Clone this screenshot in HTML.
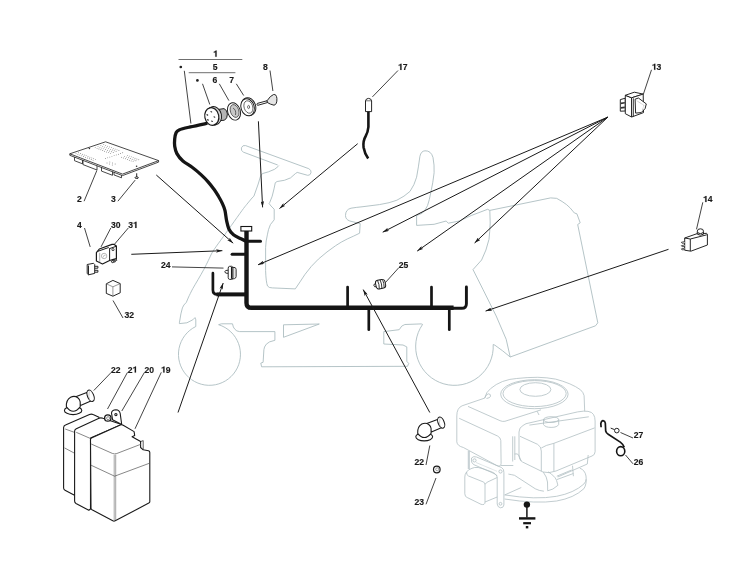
<!DOCTYPE html>
<html><head><meta charset="utf-8"><title>Wiring diagram</title>
<style>
html,body{margin:0;padding:0;background:#fff;}
svg{display:block;will-change:transform;}
text{font-family:"Liberation Sans",sans-serif;font-weight:bold;font-size:8.6px;fill:#1a1a1a;stroke:#1a1a1a;stroke-width:0.15px;text-anchor:middle;}
.o{fill:transparent;stroke:none;}
</style></head><body>
<svg width="731" height="573" viewBox="0 0 731 573">
<defs>
<marker id="ah" viewBox="0 0 10 10" refX="10" refY="5" markerWidth="6.5" markerHeight="3.6" markerUnits="userSpaceOnUse" orient="auto" preserveAspectRatio="none">
<path d="M0,0 L10,5 L0,10 L2.5,5 z" fill="#1a1a1a"/>
</marker>
<g id="boot" stroke="#1a1a1a" stroke-width="1.1" fill="#fff" stroke-linejoin="round">
<ellipse cx="0" cy="0" rx="8.7" ry="4.2"/>
<path d="M2.6,-13.6 L13.7,-17.8 L18.9,-9.8 L7.4,-4.9 Z"/>
<path d="M-6.7,-3.6 Q-7.2,-10.5 -2.5,-13.2 Q1.5,-15 4.7,-12.7 Q6.9,-11 7.1,-8.5 L7.1,-3.6 Q0,5.2 -6.7,-3.6 Z"/>
<ellipse cx="17.5" cy="-14.6" rx="3.1" ry="6" transform="rotate(-22 17.5 -14.6)"/>
<path d="M16.3,-19 Q14.8,-14 16.8,-9.6" fill="none" stroke="#aaa" stroke-width="0.6"/>
</g>
<path id="g1" d="M255,0 L410,0 L410,712 L300,712 Q262,610 75,585 L75,470 Q190,478 255,530 Z"/>
</defs>
<rect width="731" height="573" fill="#fff"/>

<!-- PALE TRACTOR -->
<g id="tractor" fill="none" stroke="#a8b9bd" stroke-width="0.85" stroke-linejoin="round">
<path d="M277.7,165 L243.5,152.2 Q240.6,150.8 241.4,147.8 Q242.6,144.8 245.6,145.6 L308.8,168.7 Q311.6,170.2 311,172.8 Q310,175.8 307.6,175.3 L297.2,172.4 L295.4,173.6 L290.5,177.9 L284.4,180.3 L277.1,181.5 L275.3,182.7 L274,188.9 L272.2,196.2 L269.8,202.3 L269.1,203.5 L271,206 L274.2,209.2 L274.2,219.8 L270.4,224.6 Q268,230 267.5,234.2 Q265.8,241 265.6,247.6 L265.6,270.6 Q266,282 267.5,286 Q269,288 272.3,287.9 L295.3,288.9 Q300,282 304.9,274.5 Q311,266 318.4,259.1 Q327,251.5 335.6,245.7 Q341,242 347.2,239 Q354,236 359.6,233.2 L360.2,223.6 L349.8,221 Q345.5,219.5 345.5,215.5 Q345.5,209.5 351,208.2 Q357,207.2 362,206.8 L379.4,204.6 Q390,203 396.9,200.2 Q404.5,196.5 410,191.4 Q414.5,185 416.6,177.2 Q418.5,167 419.9,156.4 Q421,151 425,150.8 Q431,150.5 433,157.5 Q434.5,165 434.1,172.8 Q433,183 430.8,192.5 Q429.5,200 427.5,205.7 Q425,211 422.1,213.3 L416.6,215.5 L416.6,225.4 L434.1,224.3 L446.1,221 L448.3,223.2 L459.3,221 L471.3,215.5 L487.6,209.3 L489.8,210.4 L550.6,197.9 Q557,197 562.1,201.5 Q567,204.5 570.3,208.1 L574.4,213 L576.9,213.8 L580.2,222.8 L577.7,224.5 L597.8,322.8 L595.5,325.8 L510.2,357"/>
<path d="M278.9,165.6 L278.3,166.3 L274.6,169.3 L268.5,171.8 L262.4,173.6 L260.6,176 L258.2,184 L253.9,196.2 L252,198 L246.5,204.7"/>
<path d="M246.5,204.7 C245.7,205.7 244.4,207.2 241.9,210.7 C239.4,214.1 234.9,220.5 231.4,225.4 C227.9,230.3 224.0,235.7 220.9,240.0 C217.8,244.3 214.9,248.1 212.8,251.5 C210.7,254.9 209.9,257.4 208.4,260.4 C206.9,263.4 205.6,266.1 203.9,269.3 C202.2,272.5 199.8,276.5 198.0,279.7 C196.2,282.9 194.4,285.7 192.8,288.6 C191.2,291.5 189.3,295.6 188.6,297.0 L186.3,302.4 L183.9,305 L182.4,307.9 L180.9,313.9 L179.4,322.8 L179.4,323.6 L186.9,322.8 L192.8,319.8 L195,317.6 L195.8,319.8 L195.8,326.5 A31,31 0 1 0 218.6,324.7 L221.5,323.8 L232.5,323.8 Q233,327.5 234.9,329.3 Q236.5,331.4 239.6,331.6 L274.9,331.6 L274.9,340.3 Q268.5,341.5 266.3,344.2 Q264,347 263.9,349.7 L263.1,362.3 L260.8,363.1 L261.6,366.8 L407.5,366.3 L408.7,363.5 L406.8,361.3 L406.8,346.9 L403,345 L383.8,344 L383.8,331.6 L399.2,329.7 Q401.5,325 404.9,324.5 L421.2,323.9 L422.6,324.4 A38.8,38.8 0 1 0 493.2,344.5 L494.9,345.2 L502.6,350.8 L510.2,357"/>
<path d="M489.8,210.4 L490.2,223 Q489.8,232 489,239.3 Q486.5,250.5 481.6,260 L473,269.6 L483,289.5 L496.2,316 L506.2,339.3 L510.2,357"/>
<path d="M283.5,324.8 L319.3,324 L283.5,337.3 Z"/>
</g>

<!-- ENGINE -->
<g id="engine" fill="none" stroke="#b1bfc3" stroke-width="0.8" stroke-linejoin="round">
<path d="M462.1,405.8 L484.7,398.1 Q486,392 490.6,388.6 Q496,384 502.5,381.5 Q510,378.8 516.7,378.5 Q527,377.3 537.8,377.3 Q547,377.5 555.6,379.1 Q563,381 569.9,383.9 Q576,386.5 580.5,389.8 Q583.5,392.5 584.1,395.7 L584.7,411.2"/>
<path d="M484.7,398.1 Q486,394 488.5,393.8 Q491,394 490.5,396.5 Q489.5,398 486.5,398.5"/>
<ellipse cx="534.4" cy="394.2" rx="33.7" ry="14.5"/>
<ellipse cx="534.6" cy="393.6" rx="31.6" ry="13"/>
<ellipse cx="535.4" cy="389.5" rx="15.5" ry="6.8"/>
<path d="M462.1,405.8 Q456.8,408 456.8,415.9 L456.8,441.9 Q457.3,446 463.4,447.5 L496.9,465.6 Q500.8,467.3 501.1,463.5 L500.8,440.5 Q500.5,437.5 497.7,436.1 L459.2,418.3"/>
<path d="M468,406.4 L500.1,420.7 Q502.5,421.8 504.9,421.3 L535,411.8 L541,409.8"/>
<path d="M526,423.7 L577.6,411.9 Q590.5,409.5 593.5,414.5 Q595.1,417 595.1,421 L595.1,451.7 Q595,455 592,456 L556,471 Q548.5,473.8 543,472 L522.5,462 Q519,460 519,456 L519,432 Q519,427.5 523,425.5 Z"/>
<path d="M520,436.3 L537.5,444.3 Q541.3,446.5 541.3,451 L541.3,471.2"/>
<path d="M541.3,448 Q545,445.3 553.9,443.3 L594.6,427.9"/>
<path d="M553.9,443.3 L553.9,471.2"/>
<path d="M529.4,425.1 L588.8,416.8"/>
<ellipse cx="551.1" cy="419.6" rx="7.6" ry="2.9"/>
<path d="M543.5,419.6 L543.5,424.5 Q545,427.4 551.1,427.4 Q557.3,427.4 558.7,424.5 L558.7,419.6"/>
<path d="M537.1,411.2 L539,415"/>
<path d="M512.7,436.3 L512.7,461.5 M514.8,436.3 L514.8,460"/>
<path d="M471.5,458 Q473.5,455.8 476.5,457 L501.5,467.5 Q504.2,469 503.9,472.5 L503.9,505 Q503.5,508 500.5,507.8 Q497.5,507.3 497.2,504 L497.2,477 Q497,475 494,473.5 L473.5,464.5 Q470.8,463 471.5,458 Z"/>
<circle cx="474.5" cy="460.4" r="1.6"/><circle cx="500.5" cy="471.5" r="1.6"/><circle cx="500.5" cy="503.8" r="1.4"/>
<path d="M476,462.5 L497,471.3" stroke-dasharray="0.6 0.6"/>
<path d="M466.6,472 Q468,469.5 472,468.3 L474.6,467.5 Q478,467 482,468.5 L491.7,471.8 Q495.5,473.5 497.2,476"/>
<path d="M466.6,472 Q464.8,474 464.8,477 L464.8,493.8 Q465,497 467.2,497.5 L481,504.3 Q485,505.5 485,502 L485,484.5 Q485,482.5 483,481.8 L468.5,476 Q466.2,475 466.6,472"/>
<path d="M485,484.5 Q486,482.6 488,481.8 L497.2,477.5 M485,502 L497.2,497"/>
<path d="M468.3,451 L468.3,469 M469.3,451 L469.3,469"/>
<path d="M504.6,499 Q536,504 556.6,501 Q574,498 583.9,488.7 Q587,484 586,476 Q585,470 579.8,468.2"/>
<path d="M504.6,494.9 Q536,500 556.6,496.3 Q574,493 583.9,484 Q586.5,481 586,479.2"/>
<path d="M508.4,474.1 Q511,474.5 514.5,475.3 L535.3,488.8 Q539,490.8 543.9,491.2 M504.8,494.9 L521.3,487.5 M501,465.5 L513.3,465.5 M514.5,454 L517,453.9 Q519,454.5 519.5,457 L521.3,461.3"/>
<path d="M543.3,472.2 Q547,477 547.5,482 L547.7,490.8 Q553,490 557.9,485.3 Q556.5,479 555.2,477.8 Q551,473 548,471.8 M557.7,477 L587.3,464 L588.2,455 M556.8,476.2 L571.6,470 M556.8,479.6 L573.4,473.5 M572.5,465.7 L573.4,476.2"/>

</g>

<!-- HARNESS -->
<g id="harness" fill="none" stroke="#151515" stroke-linejoin="round">
<path d="M207.4,123.2 C204.6,123.8 195.0,125.8 190.3,126.9 C185.6,128.0 181.5,128.9 179.1,129.9 C176.7,130.9 176.7,131.5 176.0,133.0 C175.3,134.5 174.9,136.6 174.7,138.8 C174.5,141.0 174.3,143.7 174.7,146.2 C175.1,148.7 175.5,151.1 176.9,153.6 C178.3,156.1 180.4,158.8 182.9,161.0 C185.4,163.2 188.8,164.8 191.8,167.0 C194.8,169.2 198.0,171.9 200.7,174.4 C203.4,176.9 205.9,179.3 208.1,181.8 C210.3,184.3 212.2,186.9 214.0,189.3 C215.8,191.8 217.2,194.2 218.6,196.5 C220.0,198.8 221.2,201.0 222.3,203.4 C223.4,205.8 224.3,207.7 225.0,210.7 C225.7,213.7 226.0,218.1 226.7,221.2 C227.4,224.3 227.9,227.0 229.0,229.3 C230.1,231.6 231.5,233.2 233.5,234.8 C235.5,236.4 238.8,237.7 241.0,238.8 C243.2,239.9 245.7,241.1 246.6,241.5" stroke-width="3.3"/>
<path d="M246.5,230.8 V302.9 Q246.5,307.8 251.4,307.8 H453.6" stroke-width="4.4"/>
<path d="M452,308.3 H461.8 Q466.4,308.3 466.4,303.7 V287" stroke-width="2.9" stroke-linecap="round"/>
<path d="M246.5,241.3 H260.5" stroke-width="3" stroke-linecap="round"/>
<path d="M232.1,254.3 H246.5" stroke-width="3" stroke-linecap="round"/>
<path d="M212.9,273.2 V290 Q212.9,294.4 217.3,294.4" stroke-width="2.7" stroke-linecap="round"/>
<path d="M216.5,294.4 H246.5" stroke-width="4"/>
<path d="M347.6,287 V307" stroke-width="2.7" stroke-linecap="round"/>
<path d="M431.5,287 V307" stroke-width="2.7" stroke-linecap="round"/>
<path d="M368.8,307.5 V329.7" stroke-width="2.7" stroke-linecap="round"/>
<path d="M449.3,307.5 V329.7" stroke-width="2.7" stroke-linecap="round"/>
</g>
<rect x="240.9" y="226.5" width="10.8" height="4.5" fill="#fff" stroke="#151515" stroke-width="1.1"/>

<!-- ARROWS -->
<g fill="none" stroke="#1a1a1a" stroke-width="1" marker-end="url(#ah)">
<path d="M258.4,121.3 L262.6,207.4"/>
<path d="M357.7,143.7 L279.5,208.5"/>
<path d="M156.3,175 L233.2,243.2"/>
<path d="M131.3,254.3 L222.4,250.7"/>
<path d="M607.9,117.1 L258,264.8"/>
<path d="M607.9,117.1 L382.7,232.2"/>
<path d="M607.9,117.1 L417.2,251.1"/>
<path d="M607.9,117.1 L474.6,243"/>
<path d="M668.5,249.3 L485.6,311.1"/>
<path d="M178,412.5 L223.2,283"/>
<path d="M429.8,412.5 L363.2,289.6"/>
</g>

<!-- LEADERS -->
<g fill="none" stroke="#222" stroke-width="0.85">
<path d="M178.5,59.5 H242.3" stroke="#555"/>
<path d="M188.7,72.7 H235.4" stroke="#555"/>
<path d="M184.3,70.8 L190.9,123.5"/>
<path d="M202.5,83.8 L209.8,104.5"/>
<path d="M219.3,83.8 L228.9,100.6"/>
<path d="M236.3,83.8 L243.7,95.5"/>
<path d="M270,70.5 L272.9,91"/>
<path d="M398,70.5 L372.4,96.9"/>
<path d="M651.5,69.8 L643.3,94.4"/>
<path d="M84.1,201.2 L96.9,170.4"/>
<path d="M117.9,201.2 L135.2,180.1"/>
<path d="M84.5,228 L90.2,246.9"/>
<path d="M110.8,228 L101,246.9"/>
<path d="M128.3,228 L114.6,244.1"/>
<path d="M172,266.9 L223.5,268.1"/>
<path d="M398.9,267.6 L385.1,282.9"/>
<path d="M702.8,202.3 L696.5,229.3"/>
<path d="M113,300.5 L123,318"/>
<path d="M111.3,372.3 L93.8,390.5"/>
<path d="M127.5,372.3 L107.5,409"/>
<path d="M144.5,372.3 L121.8,411"/>
<path d="M161.3,372.3 L135,428.8"/>
<path d="M426,465 L429.8,445.5"/>
<path d="M426,504.3 L436,478"/>
<path d="M633,438 L620.5,432.5"/>
<path d="M633,463.8 L625.5,455"/>
</g>
<circle cx="180.8" cy="67" r="1.35" fill="#222"/>
<circle cx="197.4" cy="80.4" r="1.35" fill="#222"/>

<!-- LABELS -->
<g>
<text x="215.5" y="56.7"><tspan class="o">1</tspan></text>
<text x="215.2" y="70.3">5</text>
<text x="214.8" y="83.1">6</text>
<text x="231.6" y="83.1">7</text>
<text x="265.5" y="69.7">8</text>
<text x="402.8" y="69.9"><tspan class="o">1</tspan>7</text>
<text x="656.6" y="69.8"><tspan class="o">1</tspan>3</text>
<text x="79.5" y="201.6">2</text>
<text x="113.3" y="201.6">3</text>
<text x="79.5" y="227.9">4</text>
<text x="115.8" y="227.9">30</text>
<text x="133" y="227.9">3<tspan class="o">1</tspan></text>
<text x="165.8" y="267.6">24</text>
<text x="403.5" y="267.6">25</text>
<text x="707.8" y="202.1"><tspan class="o">1</tspan>4</text>
<text x="129.3" y="318.4">32</text>
<text x="115.8" y="372.6">22</text>
<text x="132.5" y="372.6">2<tspan class="o">1</tspan></text>
<text x="149.3" y="372.6">20</text>
<text x="165.8" y="372.6"><tspan class="o">1</tspan>9</text>
<text x="419.3" y="464.9">22</text>
<text x="419.3" y="504.9">23</text>
<text x="638.5" y="438.4">27</text>
<text x="638.5" y="464.6">26</text>

<g fill="#1a1a1a" stroke="#1a1a1a" stroke-width="18"><use href="#g1" transform="translate(213.11,56.70) scale(0.0086,-0.0086)"/><use href="#g1" transform="translate(398.02,69.90) scale(0.0086,-0.0086)"/><use href="#g1" transform="translate(651.82,69.80) scale(0.0086,-0.0086)"/><use href="#g1" transform="translate(133.00,227.90) scale(0.0086,-0.0086)"/><use href="#g1" transform="translate(703.02,202.10) scale(0.0086,-0.0086)"/><use href="#g1" transform="translate(132.50,372.60) scale(0.0086,-0.0086)"/><use href="#g1" transform="translate(161.02,372.60) scale(0.0086,-0.0086)"/></g>
</g>


<!-- battery -->
<g stroke="#1a1a1a" stroke-width="1.1" fill="#fff" stroke-linejoin="round">
<path d="M63.6,427.5 Q63.8,425.8 65.5,425.1 L89.5,414.5 Q91.5,413.8 93.1,414.6 L99,417.3 L99,480 L74,495 L65,490.2 Q63.6,489.5 63.6,488 Z"/>
<path d="M65.2,429 L74.3,432.3 M64.5,447.9 L74.3,453.1" fill="none" stroke="#555" stroke-width="0.7"/>
<path d="M74.6,431 Q74.8,429.5 76.3,428.8 L99,418.2 Q101,417.4 103,418.3 L121.7,424.5 L90.5,438.1 L90.5,509 L88.8,510.3 L76,503.4 Q74.6,502.6 74.6,501 Z"/>
<path d="M76.2,432.3 L90.5,438.5" fill="none" stroke="#555" stroke-width="0.7"/>
<path d="M90.5,439.5 Q90.6,438.4 92,437.8 L120.3,425 Q121.7,424.3 123.2,425.2 L134.1,431.6 L134.7,435.5 L132.1,436.8 L140.6,441.6 L140.6,447.5 L143.2,449.8 L148.5,450.7 Q149.8,451.1 149.8,452.5 L149.8,501.8 Q149.8,502.6 148.8,503.1 L115.2,520.8 Q114,521.4 112.8,520.8 L92,509.8 Q91,509.2 91,508 Z"/>
<path d="M91.2,444 L112.3,453.4 Q114.5,454.4 116.8,453.5 L141,444.2" fill="none" stroke="#555" stroke-width="0.7"/>
<path d="M114.2,455 L114.2,520.6 M115.7,454.6 L115.7,520" fill="none" stroke="#666" stroke-width="0.6"/>
<path d="M91,465.2 L114.6,476.2 L149.8,463.1" fill="none" stroke="#555" stroke-width="0.7"/>
<path d="M140.6,441.6 L143.2,440.6 L143.2,449.8" fill="none" stroke-width="0.7"/>
<path d="M112.6,419.8 L111.5,413 Q112,409.8 115.9,409.8 Q119.6,410 120.2,413.5 L121.7,424.5 Z"/>
<circle cx="115.9" cy="414.6" r="1.1"/>
<circle cx="107.8" cy="418" r="3.2" stroke-width="1.3"/>
<circle cx="108.1" cy="418.2" r="1.5" fill="none" stroke="#666" stroke-width="0.7"/>
</g>

<!-- PARTS -->
<g id="parts" stroke="#1a1a1a" stroke-width="0.95" fill="#fff" stroke-linejoin="round">
<!-- board 2 -->
<g stroke-width="0.8">
<path d="M74.5,157.1 L74.5,160.7 L82.5,163.8 L82.5,160.2"/><path d="M83.0,160.4 L83.0,164.6 L97.0,170.0 L97.0,165.8"/><path d="M101.5,167.5 L101.5,171.1 L112.5,175.3 L112.5,171.7"/><path d="M114.0,172.3 L114.0,174.9 L121.5,177.8 L121.5,175.2"/>
<path d="M69.8,153.8 L105.6,141.8 L158.6,160.6 L122.5,174.1 Z" fill="#fff"/>
<path d="M69.8,153.8 L69.8,155.3 L122.5,175.6 L158.6,162.1 L158.6,160.6" fill="none"/>
</g>
<g fill="#444" stroke="none"><circle cx="95.16" cy="147.58" r="0.42"/><circle cx="97.06" cy="148.31" r="0.42"/><circle cx="98.95" cy="149.04" r="0.42"/><circle cx="100.85" cy="149.77" r="0.42"/><circle cx="102.75" cy="150.50" r="0.42"/><circle cx="104.64" cy="151.23" r="0.42"/><circle cx="106.54" cy="151.96" r="0.42"/><circle cx="108.44" cy="152.69" r="0.42"/><circle cx="110.34" cy="153.42" r="0.42"/><circle cx="98.02" cy="146.62" r="0.42"/><circle cx="99.92" cy="147.35" r="0.42"/><circle cx="101.82" cy="148.08" r="0.42"/><circle cx="103.71" cy="148.81" r="0.42"/><circle cx="105.61" cy="149.54" r="0.42"/><circle cx="107.51" cy="150.27" r="0.42"/><circle cx="109.41" cy="151.00" r="0.42"/><circle cx="111.30" cy="151.73" r="0.42"/><circle cx="113.20" cy="152.46" r="0.42"/><circle cx="100.89" cy="145.66" r="0.42"/><circle cx="102.78" cy="146.39" r="0.42"/><circle cx="104.68" cy="147.12" r="0.42"/><circle cx="106.58" cy="147.85" r="0.42"/><circle cx="108.47" cy="148.58" r="0.42"/><circle cx="110.37" cy="149.31" r="0.42"/><circle cx="112.27" cy="150.04" r="0.42"/><circle cx="114.17" cy="150.77" r="0.42"/><circle cx="116.06" cy="151.50" r="0.42"/><circle cx="103.75" cy="144.70" r="0.42"/><circle cx="105.65" cy="145.43" r="0.42"/><circle cx="107.54" cy="146.16" r="0.42"/><circle cx="109.44" cy="146.89" r="0.42"/><circle cx="111.34" cy="147.62" r="0.42"/><circle cx="113.24" cy="148.35" r="0.42"/><circle cx="115.13" cy="149.08" r="0.42"/><circle cx="117.03" cy="149.81" r="0.42"/><circle cx="118.93" cy="150.54" r="0.42"/><circle cx="76.02" cy="153.62" r="0.42"/><circle cx="77.91" cy="154.35" r="0.42"/><circle cx="79.81" cy="155.08" r="0.42"/><circle cx="81.71" cy="155.81" r="0.42"/><circle cx="83.60" cy="156.54" r="0.42"/><circle cx="85.50" cy="157.27" r="0.42"/><circle cx="87.40" cy="158.00" r="0.42"/><circle cx="89.30" cy="158.73" r="0.42"/><circle cx="91.19" cy="159.46" r="0.42"/><circle cx="93.09" cy="160.19" r="0.42"/><circle cx="78.52" cy="152.78" r="0.42"/><circle cx="80.42" cy="153.51" r="0.42"/><circle cx="82.32" cy="154.24" r="0.42"/><circle cx="84.21" cy="154.97" r="0.42"/><circle cx="86.11" cy="155.70" r="0.42"/><circle cx="88.01" cy="156.43" r="0.42"/><circle cx="89.90" cy="157.16" r="0.42"/><circle cx="91.80" cy="157.89" r="0.42"/><circle cx="93.70" cy="158.62" r="0.42"/><circle cx="95.60" cy="159.35" r="0.42"/><circle cx="105.52" cy="158.53" r="0.42"/><circle cx="107.67" cy="157.81" r="0.42"/><circle cx="109.81" cy="157.09" r="0.42"/><circle cx="111.96" cy="156.37" r="0.42"/><circle cx="114.11" cy="155.65" r="0.42"/><circle cx="116.26" cy="154.93" r="0.42"/><circle cx="118.41" cy="154.21" r="0.42"/><circle cx="120.55" cy="153.49" r="0.42"/><circle cx="122.70" cy="152.77" r="0.42"/><circle cx="121.70" cy="157.28" r="0.42"/><circle cx="123.59" cy="158.02" r="0.42"/><circle cx="125.49" cy="158.75" r="0.42"/><circle cx="127.39" cy="159.48" r="0.42"/><circle cx="129.29" cy="160.21" r="0.42"/><circle cx="131.18" cy="160.94" r="0.42"/><circle cx="133.08" cy="161.67" r="0.42"/><circle cx="124.56" cy="156.32" r="0.42"/><circle cx="126.46" cy="157.06" r="0.42"/><circle cx="128.36" cy="157.79" r="0.42"/><circle cx="130.25" cy="158.52" r="0.42"/><circle cx="132.15" cy="159.25" r="0.42"/><circle cx="134.05" cy="159.98" r="0.42"/><circle cx="135.94" cy="160.71" r="0.42"/><circle cx="127.42" cy="155.37" r="0.42"/><circle cx="129.32" cy="156.10" r="0.42"/><circle cx="131.22" cy="156.83" r="0.42"/><circle cx="133.12" cy="157.56" r="0.42"/><circle cx="135.01" cy="158.29" r="0.42"/><circle cx="136.91" cy="159.02" r="0.42"/><circle cx="138.81" cy="159.75" r="0.42"/><circle cx="107.00" cy="162.97" r="0.42"/><circle cx="109.63" cy="163.99" r="0.42"/><circle cx="112.27" cy="165.00" r="0.42"/><circle cx="109.86" cy="162.01" r="0.42"/><circle cx="112.50" cy="163.03" r="0.42"/><circle cx="115.13" cy="164.04" r="0.42"/></g>
<circle cx="89.4" cy="148.5" r="0.8" fill="#333" stroke="none"/>
<circle cx="136.6" cy="166.2" r="0.8" fill="#333" stroke="none"/>
<!-- screw 3 -->
<path d="M136.7,173.3 L136.7,177.2" fill="none"/>
<ellipse cx="136.7" cy="177.7" rx="1.7" ry="0.8"/>
<!-- relay 30 -->
<path d="M112.5,259.6 L116,258.6 L116.8,260.4 L113.3,261.5 Z M111.2,261 L114.6,260 L115.4,261.8 L112,262.8 Z" stroke-width="0.8"/>
<path d="M96.4,252.7 L99.3,249 L112,244.4 L113.8,244.3 L116.4,246.1 L116.4,258.6 L113.5,259.3 L109.6,260.5 L102.5,264 L96.4,261 Z" stroke-width="1.2"/>
<path d="M109.6,248.6 L109.6,260.5 M97.6,251.4 L108.4,247.6 L109.6,248.6 L116.2,246.3" fill="none" stroke-width="1"/>
<path d="M99.7,252.8 L99.7,262.4" fill="none" stroke="#777" stroke-width="0.6"/>
<circle cx="104.1" cy="256" r="2.7" fill="none" stroke="#888" stroke-width="0.6"/>
<path d="M103,257.5 Q104.5,253.5 105.2,256" fill="none" stroke="#999" stroke-width="0.6"/>
<circle cx="113" cy="249.6" r="1.1" stroke-width="0.8"/>
<!-- part 4 -->
<path d="M87.2,264.5 L93.5,263.3 L94.7,264.5 L94.7,273.4 L88.5,274.8 L87.2,273.6 Z"/>
<path d="M88.5,265.5 L88.5,274.7" fill="none"/>
<path d="M94.7,266.3 L97.9,266.3 L97.9,268.2 L94.7,268.2 M94.7,270.3 L97.9,270.3 L97.9,272.2 L94.7,272.2" fill="none"/>
<!-- part 32 cube -->
<path d="M112.9,280.4 L120.2,283.6 L120.2,292.8 L112.9,296.2 L106.3,293.4 L106.3,283.8 Z"/>
<path d="M106.3,283.8 L112.9,286.8 L120.2,283.6 M112.9,286.8 L112.9,296.2" fill="none" stroke-width="0.6" stroke="#555"/>
<!-- clip 24 -->
<path d="M228.4,270.2 Q224.8,270 224.8,271.8 Q224.8,273.6 228.4,273.4" fill="none" stroke-width="0.9"/>
<path d="M232,267.2 L235,267.6 Q236.1,268 236.1,269.5 L236.1,276.5 Q236,278.2 234.5,278.6 L232,279 Z" fill="#fff"/>
<path d="M229.6,266.3 L231.6,266.3 Q232.9,266.6 232.9,268.2 L232.9,277.8 Q232.8,279.4 231.4,279.4 L229.6,279.4 Q228.2,279.2 228.2,277.6 L228.2,268.2 Q228.3,266.4 229.6,266.3 Z" fill="#fff"/>
<path d="M231.6,267 L231.6,278.8" fill="none" stroke-width="1.3"/>
<path d="M233.8,268 L233.8,278.4" fill="none" stroke="#888" stroke-width="0.7"/>
<!-- clip 25 -->
<g transform="translate(380,284.3) rotate(-12)">
<path d="M-4,-1.6 Q-6.2,-1.8 -6.2,0 Q-6.2,1.8 -4,1.6" fill="none" stroke-width="0.9"/>
<rect x="-4.2" y="-4.4" width="9.6" height="8.8" rx="2.6"/>
<path d="M-1.6,-4.3 Q-0.6,0 -1.6,4.3 M1,-4.4 Q2,0 1,4.4 M3.4,-4.1 Q4.3,0 3.4,4.1" fill="none" stroke-width="0.8"/>
</g>
<!-- switch 13 -->
<path d="M620.3,99.6 L625.3,98.2 L625.3,111 L620.3,111.2 Z"/>
<path d="M620.8,102.6 L624.8,101.9 L624.8,103.6 L620.8,104.2 Z M620.8,107.1 L624.8,106.6 L624.8,108.2 L620.8,108.7 Z" fill="#333" stroke="none"/>
<path d="M625.3,95.3 L631.6,97.8 L631.6,117 L625.3,113.7 Z"/>
<path d="M625.3,95.3 L634.3,92.2 L643.2,94.1 L631.6,97.8 Z"/>
<path d="M631.6,97.8 L643.2,94.1 L643.5,112.6 L631.7,117 Z"/>
<path d="M633.4,98.3 L633.4,116.4" fill="none" stroke-width="0.8"/>
<path d="M635.1,99.2 L638.4,98 L646.3,103.9 L645.1,108.6 L641.2,112.6 L635.6,113.1 Z"/>
<path d="M636.8,100.8 L644,105.3 L642.3,110.3" fill="none" stroke="#888" stroke-width="0.6" stroke-dasharray="0.8 0.6"/>
<!-- microswitch 14 -->
<path d="M684.7,238 L697.5,233.5 L706.6,233.4 Q707.4,233.6 707.4,235 L707.4,245 L690.9,251.2 L684.7,250.2 Z"/>
<path d="M684.7,238 L690.3,239 L706.8,234.8 M690.3,239 L690.3,251" fill="none"/>
<path d="M685,241.5 L681.3,242.3 L682.2,243.3 L685,243.0" stroke-width="0.75"/><path d="M685,244.9 L681.3,245.7 L682.2,246.7 L685,246.4" stroke-width="0.75"/><path d="M685,248.1 L681.3,248.9 L682.2,249.9 L685,249.6" stroke-width="0.75"/>
<path d="M697.3,231.8 L697.3,234.2 Q700.4,236.2 703.5,234.2 L703.5,231.8" />
<ellipse cx="700.4" cy="231.2" rx="3.1" ry="2.4"/>
<!-- part 17 connector -->
<path d="M368.4,111.5 L368.4,127 Q368,132 365.5,136.5 Q362.8,141 363.6,147.5 Q364.6,153.5 368.2,158.4" fill="none" stroke="#151515" stroke-width="2.6"/>
<path d="M365.5,100.8 L366.5,99 Q368.5,97.8 370.6,99 L371.6,100.8 L371.6,111.6 L365.5,111.6 Z"/>
<path d="M365.5,100.8 L371.6,100.8" fill="none" stroke-width="0.6"/>
<!-- part 5 switch body -->
<path d="M218.5,109.4 L224,108.6 Q227.2,110 227.4,114 Q227.4,118.6 224.5,120.2 L218.5,120.8 Z" fill="#b5b5b5"/>
<ellipse cx="214" cy="115.8" rx="7.5" ry="9.3" transform="rotate(-12 214 115.8)" fill="#d4d4d4"/>
<ellipse cx="211.8" cy="116.5" rx="7" ry="8.9" transform="rotate(-12 211.8 116.5)" stroke-width="1.2"/>
<g fill="#333" stroke="none">
<ellipse cx="211.3" cy="111.8" rx="1" ry="0.65" transform="rotate(30 211.3 111.8)"/><ellipse cx="207.3" cy="114.9" rx="1" ry="0.65" transform="rotate(30 207.3 114.9)"/><ellipse cx="214.4" cy="117" rx="1" ry="0.65" transform="rotate(30 214.4 117)"/><ellipse cx="212" cy="121.2" rx="1" ry="0.65" transform="rotate(30 212 121.2)"/><ellipse cx="207.9" cy="119.9" rx="1" ry="0.65" transform="rotate(30 207.9 119.9)"/>
</g>
<!-- part 6 ring -->
<ellipse cx="234" cy="111.4" rx="6.3" ry="8.9" transform="rotate(-18 234 111.4)"/>
<ellipse cx="234.6" cy="111" rx="4.2" ry="6.6" transform="rotate(-18 234.6 111)" fill="#c8c8c8" stroke-width="0.6"/>
<path d="M233,108 Q236.5,110 235.5,115" fill="none" stroke-width="0.6"/>
<!-- part 7 -->
<ellipse cx="248.6" cy="106.6" rx="7" ry="9.1" transform="rotate(-18 248.6 106.6)"/>
<ellipse cx="247.6" cy="107.3" rx="6.6" ry="8.7" transform="rotate(-18 247.6 107.3)"/>
<ellipse cx="248.4" cy="107" rx="4.3" ry="6.4" transform="rotate(-18 248.4 107)" stroke-width="0.6"/>
<ellipse cx="248.6" cy="107" rx="1" ry="1.6" fill="none" stroke-width="0.6"/>
<!-- part 8 key -->
<path d="M257.4,103.4 L267.2,100.7 L267.6,102.5 L257.8,105.3 Q256.2,105 257.4,103.4 Z"/>
<path d="M267,100.8 Q270.5,95.5 273.6,94.5 Q276.5,94 276.9,98.5 Q277.2,104.5 274,105.2 Q270.5,104.5 267.5,102.6 Z" fill="#e4e4e4"/>
<use href="#boot" transform="translate(73.1,410.4)"/>
<use href="#boot" transform="translate(424.2,436.8) scale(0.97)"/>
<!-- nut 23 -->
<circle cx="436.8" cy="469.5" r="3.3" stroke-width="1.2"/>
<circle cx="437.2" cy="469.3" r="1.5" fill="none" stroke="#777" stroke-width="0.7"/>
<!-- 26 / 27 -->
<path d="M601.1,427.2 L600.8,423.6 Q601.5,420.6 603,420.6 Q605,420.8 605.3,423 L605.7,431 Q606.3,433.2 608.2,434.3 L620.3,442.1 Q623.6,444.6 624.2,447.3" fill="none" stroke="#151515" stroke-width="1.7"/>
<ellipse cx="620.7" cy="451.2" rx="4.1" ry="4.6" fill="none" stroke="#151515" stroke-width="1.6"/>
<path d="M610.7,428.1 L614.5,429.6" fill="none"/>
<circle cx="616.8" cy="430.6" r="2.3"/>
<!-- ground -->
<circle cx="526.9" cy="504.6" r="3.2" fill="#151515" stroke="none"/>
<path d="M526.9,506 L526.9,517.5" fill="none" stroke="#151515" stroke-width="1.5"/>
<rect x="519" y="517.2" width="16.4" height="2.4" fill="#151515" stroke="none"/>
<rect x="523.2" y="522.1" width="7.8" height="2.2" fill="#151515" stroke="none"/>
<rect x="525.8" y="526" width="2.5" height="2.4" fill="#151515" stroke="none"/>
</g>

</svg>
</body></html>
